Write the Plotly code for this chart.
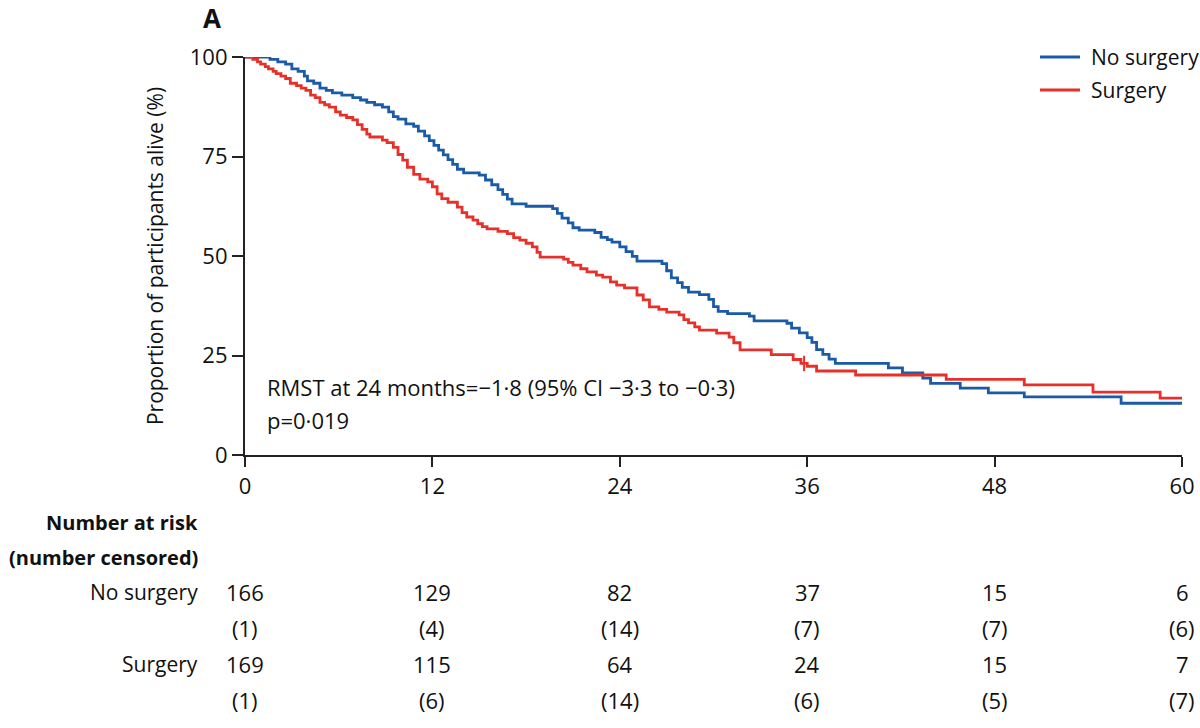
import plotly.graph_objects as go

# ---- data ----
no_surg_t = [0, 1.6, 2.1, 2.6, 3.0, 3.4, 3.8, 4.0, 4.4, 4.8, 5.2, 5.6, 6.2, 6.9, 7.4, 7.8, 8.3, 8.8,
             9.2, 9.5, 9.8, 10.3, 10.8, 11.1, 11.5, 11.8, 12.1, 12.4, 12.7, 13.0, 13.3, 13.6, 14.0,
             15.0, 15.4, 15.8, 16.2, 16.5, 16.8, 17.1, 18.0, 19.7, 20.0, 20.3, 20.7, 21.0, 21.4,
             22.4, 22.8, 23.2, 23.5, 24.0, 24.4, 24.8, 25.1, 26.7, 27.0, 27.3, 27.7, 28.0, 28.4,
             29.1, 29.7, 30.0, 30.3, 30.9, 32.3, 32.6, 34.7, 35.0, 35.5, 36.0, 36.3, 36.6, 37.0,
             37.4, 37.8, 41.2, 42.1, 43.4, 43.9, 45.8, 47.6, 49.9, 56.1, 60]
no_surg_s = [100, 99.4, 98.8, 98.2, 97.0, 96.4, 95.2, 94.0, 93.4, 92.2, 91.6, 91.0, 90.4, 89.8, 89.2,
             88.6, 88.0, 87.4, 86.2, 85.0, 84.4, 83.2, 82.6, 81.4, 80.2, 79.0, 77.8, 76.6, 75.4,
             74.2, 73.0, 71.8, 70.9, 70.3, 69.1, 67.9, 66.7, 65.5, 64.3, 63.1, 62.5, 61.9, 60.7,
             59.5, 58.3, 57.1, 56.5, 55.9, 54.7, 54.1, 53.5, 52.3, 51.1, 49.9, 48.7, 48.1, 46.3,
             44.5, 43.3, 42.1, 40.9, 40.3, 39.1, 37.3, 36.1, 35.5, 34.9, 33.7, 33.1, 31.9, 30.7,
             29.5, 28.3, 26.5, 25.3, 24.1, 23.0, 21.9, 20.6, 19.3, 18.0, 16.8, 15.6, 14.6, 13.0, 13.0]

surg_t = [0, 0.5, 0.8, 1.0, 1.3, 1.5, 1.8, 2.0, 2.3, 2.6, 2.9, 3.3, 3.6, 3.9, 4.2, 4.5, 4.8, 5.1,
          5.4, 5.8, 6.1, 6.5, 6.9, 7.2, 7.5, 7.8, 8.0, 8.8, 9.1, 9.5, 9.8, 10.1, 10.4, 10.8, 11.2,
          11.7, 12.0, 12.3, 12.6, 13.0, 13.6, 13.9, 14.2, 14.6, 14.9, 15.2, 15.5, 16.2, 16.8, 17.2,
          17.6, 18.0, 18.4, 18.7, 18.9, 20.4, 20.7, 21.0, 21.5, 21.9, 22.5, 22.9, 23.4, 23.8, 24.3,
          25.1, 25.5, 25.9, 26.5, 27.0, 27.8, 28.1, 28.4, 28.8, 29.1, 30.2, 31.0, 31.3, 31.7, 33.7,
          35.1, 35.6, 36.0, 36.6, 39.1, 44.9, 49.9, 54.3, 58.6, 60]
surg_s = [100, 99.4, 98.8, 98.2, 97.6, 97.0, 96.4, 95.8, 95.2, 94.6, 93.4, 92.8, 92.2, 91.6, 90.4,
          89.8, 88.6, 88.0, 87.4, 86.2, 85.4, 84.8, 84.2, 83.0, 81.8, 80.6, 79.9, 79.1, 78.5, 77.3,
          75.5, 74.1, 72.3, 70.5, 69.3, 68.6, 67.4, 65.6, 64.4, 63.5, 62.3, 60.9, 59.8, 59.0, 58.1,
          57.4, 56.8, 56.2, 55.6, 54.6, 54.0, 53.2, 52.3, 50.9, 49.7, 49.2, 48.4, 47.7, 46.8, 46.0,
          45.2, 44.7, 43.5, 42.7, 42.0, 40.2, 39.0, 37.2, 36.6, 35.9, 35.2, 34.0, 33.2, 32.2, 31.4,
          30.6, 29.6, 28.2, 26.4, 25.2, 24.0, 23.0, 22.3, 21.1, 20.1, 19.0, 17.6, 15.8, 14.3, 14.3]

censor_t = [35.8]
censor_s = [23.0]

x_ticks = [0, 12, 24, 36, 48, 60]
y_ticks = [0, 25, 50, 75, 100]

groups = ["No surgery", "Surgery"]
at_risk = {"No surgery": [166, 129, 82, 37, 15, 6], "Surgery": [169, 115, 64, 24, 15, 7]}
censored = {"No surgery": [1, 4, 14, 7, 7, 6], "Surgery": [1, 6, 14, 6, 5, 7]}

BLUE = "#1a5aa6"
RED = "#e8302a"
INK = "#111111"
FONT = "Open Sans"
colors = {"No surgery": BLUE, "Surgery": RED}

# ---- figure geometry (pixels of the 1200x728 page) ----
W, H = 1200, 728
L, R, T, B = 245, 18, 57, 273
PW, PH = W - L - R, H - T - B

def px_x(sx):
    return (sx - L) / PW

def px_y(sy):
    return (H - B - sy) / PH

fig = go.Figure()
fig.add_trace(go.Scatter(x=no_surg_t, y=no_surg_s, mode="lines",
                         line=dict(color=BLUE, width=2.8, shape="hv"), name="No surgery"))
fig.add_trace(go.Scatter(x=surg_t, y=surg_s, mode="lines",
                         line=dict(color=RED, width=2.8, shape="hv"), name="Surgery"))
fig.add_trace(go.Scatter(x=censor_t, y=censor_s, mode="markers", showlegend=False,
                         marker=dict(symbol="line-ns", size=11, line=dict(color=RED, width=2))))

ann = []
shapes = []
ann.append(dict(text="<b>A</b>", x=px_x(212), y=px_y(18), xref="paper", yref="paper", showarrow=False,
                font=dict(size=26, family=FONT, color=INK), xanchor="center", yanchor="middle"))
ann.append(dict(text="RMST at 24 months=\u22121\u00b78 (95% CI \u22123\u00b73 to \u22120\u00b73)",
                x=px_x(265), y=px_y(387), xref="paper", yref="paper", showarrow=False,
                xanchor="left", yanchor="middle", font=dict(size=22, family=FONT, color=INK)))
ann.append(dict(text="p=0\u00b7019", x=px_x(265), y=px_y(420), xref="paper", yref="paper",
                showarrow=False, xanchor="left", yanchor="middle",
                font=dict(size=22, family=FONT, color=INK)))

# legend (drawn as key lines + labels so it stays exactly where the reference has it)
legend_y = {"No surgery": 57, "Surgery": 90}
for g in groups:
    shapes.append(dict(type="line", xref="paper", yref="paper",
                       x0=px_x(1040), x1=px_x(1080), y0=px_y(legend_y[g]), y1=px_y(legend_y[g]),
                       line=dict(color=colors[g], width=2.8)))
    ann.append(dict(text=g, x=px_x(1089), y=px_y(legend_y[g]), xref="paper", yref="paper",
                    showarrow=False, xanchor="left", yanchor="middle",
                    font=dict(size=21, family=FONT, color=INK)))

label_x = px_x(200)
rows_y = [522, 557, 592, 628, 664, 700]
ann.append(dict(text="<b>Number at risk</b>", x=label_x, y=px_y(rows_y[0]), xref="paper", yref="paper",
                showarrow=False, xanchor="right", yanchor="middle",
                font=dict(size=20, family=FONT, color=INK)))
ann.append(dict(text="<b>(number censored)</b>", x=label_x, y=px_y(rows_y[1]), xref="paper",
                yref="paper", showarrow=False, xanchor="right", yanchor="middle",
                font=dict(size=20, family=FONT, color=INK)))
for gi, g in enumerate(groups):
    yr = rows_y[2 + gi * 2]
    yc = rows_y[3 + gi * 2]
    ann.append(dict(text=g, x=label_x, y=px_y(yr), xref="paper", yref="paper", showarrow=False,
                    xanchor="right", yanchor="middle", font=dict(size=21, family=FONT, color=INK)))
    for t, n, c in zip(x_ticks, at_risk[g], censored[g]):
        ann.append(dict(text=str(n), x=t, y=px_y(yr), xref="x", yref="paper", showarrow=False,
                        xanchor="center", yanchor="middle", font=dict(size=22, family=FONT, color=INK)))
        ann.append(dict(text=f"({c})", x=t, y=px_y(yc), xref="x", yref="paper", showarrow=False,
                        xanchor="center", yanchor="middle", font=dict(size=22, family=FONT, color=INK)))

fig.update_layout(
    width=W, height=H, autosize=False, margin=dict(l=L, r=R, t=T, b=B, autoexpand=False),
    paper_bgcolor="white", plot_bgcolor="white",
    font=dict(family=FONT, size=21, color=INK),
    showlegend=False,
    annotations=ann, shapes=shapes,
)
fig.update_xaxes(range=[0, 60], tickvals=x_ticks, showgrid=False, zeroline=False, showline=True,
                 automargin=False,
                 linecolor="#222", linewidth=2.2, ticks="outside", ticklen=10, tickwidth=2.2,
                 tickcolor="#222", tickfont=dict(size=22, family=FONT, color=INK))
fig.update_yaxes(range=[0, 100], tickvals=y_ticks, showgrid=False, zeroline=False, showline=True,
                 automargin=False,
                 linecolor="#222", linewidth=2.2, ticks="outside", ticklen=11, tickwidth=2.2,
                 tickcolor="#222", tickfont=dict(size=22, family=FONT, color=INK),
                 title=dict(text="Proportion of participants alive (%)", standoff=20,
                            font=dict(size=21, family=FONT, color=INK)))

# keep the figure at its fixed 1200x728 size and flush with the window's corner
post = "document.body.style.margin='0px';document.body.style.overflow='hidden';"
fig.write_html("out.html", post_script=post,
               config={"responsive": False, "displayModeBar": False})
